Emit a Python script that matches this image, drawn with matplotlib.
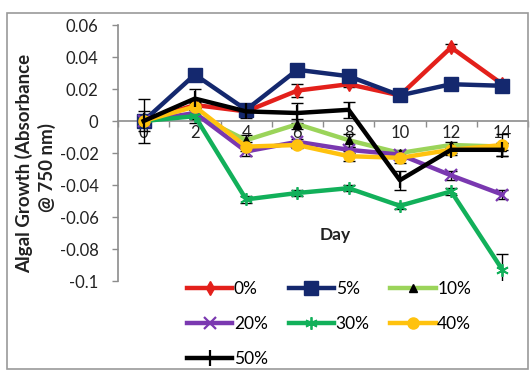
import matplotlib
matplotlib.use("Agg")
import matplotlib.pyplot as plt
from matplotlib.patches import Rectangle

plt.rcParams['font.family'] = ['Lato', 'DejaVu Sans']

# Sampling days and treatment concentrations
days = ['0', '2', '4', '6', '8', '10', '12', '14']
series_labels = ['0%', '5%', '10%', '20%', '30%', '40%', '50%']

# Mean change in absorbance at 750 nm for each treatment
g0 = [0.000, 0.010, 0.006, 0.019, 0.023, 0.016, 0.046, 0.023]
g5 = [0.000, 0.029, 0.007, 0.032, 0.028, 0.016, 0.023, 0.022]
g10 = [0.000, 0.004, -0.012, -0.002, -0.012, -0.020, -0.015, -0.016]
g20 = [0.000, 0.005, -0.019, -0.013, -0.018, -0.021, -0.034, -0.046]
g30 = [0.000, 0.003, -0.049, -0.045, -0.042, -0.053, -0.044, -0.093]
g40 = [0.000, 0.009, -0.016, -0.015, -0.022, -0.023, -0.018, -0.015]
g50 = [0.000, 0.014, 0.006, 0.005, 0.007, -0.037, -0.018, -0.018]

# Standard deviations
e0 = [0.002, 0.002, 0.002, 0.004, 0.002, 0.002, 0.002, 0.002]
e5 = [0.002, 0.002, 0.002, 0.002, 0.002, 0.003, 0.002, 0.002]
e10 = [0.004, 0.005, 0.003, 0.003, 0.004, 0.002, 0.002, 0.002]
e20 = [0.002, 0.002, 0.003, 0.002, 0.002, 0.002, 0.003, 0.003]
e30 = [0.002, 0.002, 0.002, 0.002, 0.002, 0.002, 0.002, 0.010]
e40 = [0.006, 0.002, 0.003, 0.002, 0.003, 0.003, 0.002, 0.007]
e50 = [0.014, 0.006, 0.004, 0.006, 0.005, 0.006, 0.003, 0.004]

values = [g0, g5, g10, g20, g30, g40, g50]
errors = [e0, e5, e10, e20, e30, e40, e50]

styles = [
    dict(color='#E3201B', marker='d', ms=7, mfc='#E3201B', mec='#E3201B', mew=1),
    dict(color='#14286E', marker='s', ms=10, mfc='#14286E', mec='#14286E', mew=1),
    dict(color='#9BD45A', marker='^', ms=6, mfc='black', mec='black', mew=1),
    dict(color='#7A38B0', marker='x', ms=8, mfc='#7A38B0', mec='#7A38B0', mew=1.6),
    dict(color='#12B05A', marker=(6, 2, 0), ms=9, mfc='#12B05A', mec='#12B05A', mew=1.3),
    dict(color='#FFC20E', marker='o', ms=8, mfc='#FFC20E', mec='#FFC20E', mew=1),
    dict(color='black', marker='|', ms=11, mfc='black', mec='black', mew=1.6),
]

W, H = 531, 371
fig = plt.figure(figsize=(W / 100, H / 100), dpi=100)
ax = fig.add_axes([118 / W, 1 - 281 / H, 410 / W, 256 / H])

x = list(range(len(days)))
handles = []
for vals, errs, lab, st in zip(values, errors, series_labels, styles):
    ax.errorbar(x, vals, yerr=errs, fmt='none', ecolor='black', elinewidth=1,
                capsize=4, capthick=1, zorder=3)
    h, = ax.plot(x, vals, lw=3.2, label=lab, zorder=4, **st)
    handles.append(h)

ax.set_xlim(-0.5, len(days) - 0.5)
ax.set_ylim(-0.1, 0.06)
ax.set_yticks([0.06, 0.04, 0.02, 0, -0.02, -0.04, -0.06, -0.08, -0.1])
ax.set_yticklabels(['0.06', '0.04', '0.02', '0', '-0.02', '-0.04', '-0.06', '-0.08', '-0.1'])
ax.set_xticks(x)
ax.set_xticklabels(days)
ax.set_xticks([i + 0.5 for i in range(-1, len(days))], minor=True)

for s in ['top', 'right']:
    ax.spines[s].set_visible(False)
ax.spines['bottom'].set_position(('data', 0))
ax.spines['bottom'].set_color('#8c8c8c')
ax.spines['left'].set_color('#8c8c8c')
ax.spines['bottom'].set_linewidth(1.2)
ax.spines['left'].set_linewidth(1.2)
ax.spines['bottom'].set_zorder(1)

ax.tick_params(axis='x', which='major', length=0, pad=3, labelsize=12, labelcolor='#222222')
ax.tick_params(axis='x', which='minor', length=4, direction='out', color='#8c8c8c', width=1)
ax.tick_params(axis='y', length=4, direction='out', color='#8c8c8c', width=1,
               pad=10, labelsize=12, labelcolor='#222222')
ax.patch.set_alpha(0)

fig.text(24 / W, 1 - 163 / H, 'Algal Growth (Absorbance', rotation=90,
         ha='center', va='center', fontsize=13.5, fontweight='bold', color='#222222')
fig.text(47 / W, 1 - 167 / H, '@ 750 nm)', rotation=90,
         ha='center', va='center', fontsize=13.5, fontweight='bold', color='#222222')
fig.text(335 / W, 1 - 235 / H, 'Day', ha='center', va='center',
         fontsize=12.5, fontweight='bold', color='#222222')

order = [0, 3, 6, 1, 4, 2, 5]
leg = fig.legend([handles[i] for i in order], [series_labels[i] for i in order],
                 ncol=3, frameon=False, loc='upper left',
                 bbox_to_anchor=(180 / W, 1 - 274 / H), fontsize=12.5,
                 handlelength=2.6, handletextpad=0.1, columnspacing=1.2,
                 labelspacing=1.1, borderaxespad=0)

fig.add_artist(Rectangle((7 / W, 1 - 369 / H), 521 / W, 356 / H,
                         transform=fig.transFigure, fill=False,
                         edgecolor='#9a9a9a', lw=1.2))

fig.savefig('out.png', dpi=100)
